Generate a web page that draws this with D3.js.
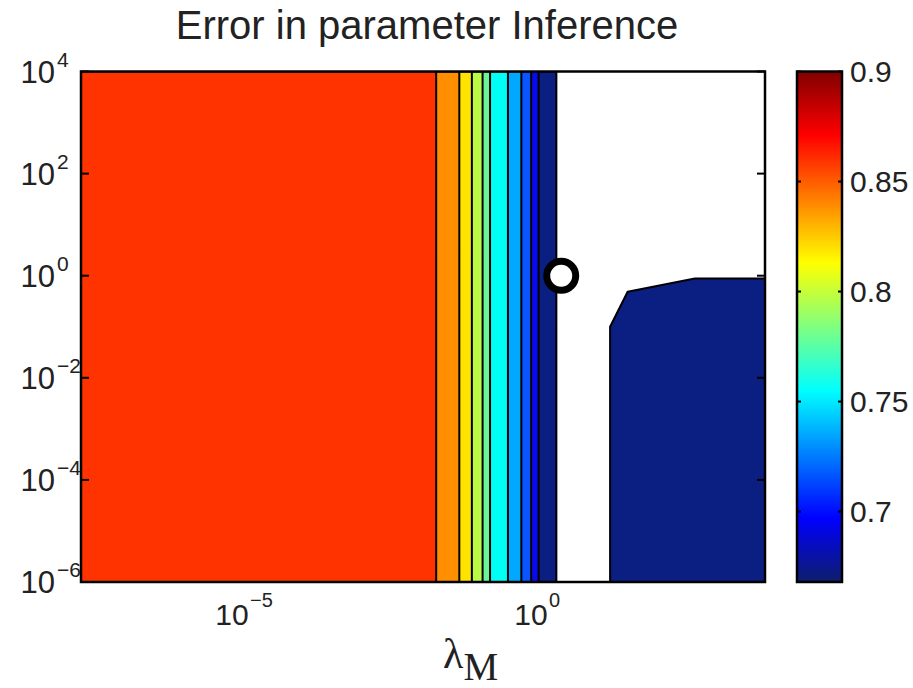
<!DOCTYPE html>
<html><head><meta charset="utf-8">
<script src="https://cdn.jsdelivr.net/npm/d3@7"></script>
<style>body{margin:0;background:#fff} svg{display:block}</style>
</head><body>
<svg id="chart" width="913" height="688"></svg>
<script>
// ---------- data ----------
// grid columns: log2(lambda_M)
const lambdaLog2 = [-25, -5.3, -4.0, -3.3, -2.7, -2.3, -1.3, -0.55, 0, 0.4, 1.25, 3, 5.37, 9.1, 13];
// grid rows: log10(y)
const yLog10 = [-6, -5, -4, -3, -2, -1, 0, 1, 2, 3, 4];
// error along lambda, common to every row (first 12 columns)
const errCommon = [0.862, 0.8605, 0.8405, 0.8205, 0.8005, 0.7805, 0.7605, 0.7405, 0.7205, 0.7005, 0.6805, 0.675];
// error on the last three columns, by row group
const errTailLow  = [0.6835, 0.690, 0.690];   // rows y <= 1e-1
const errTailMid  = [0.6784, 0.6794, 0.6794]; // row  y = 1e0
const errTailHigh = [0.674, 0.673, 0.672];    // rows y >= 1e1
// contour levels
const levels = [0.68, 0.70, 0.72, 0.74, 0.76, 0.78, 0.80, 0.82, 0.84, 0.86];
// colour bar
const cbarDomain = [0.668, 0.9];
const cbarTicks = [0.7, 0.75, 0.8, 0.85, 0.9];
// axis ticks (exponents)
const xTickExp = [-5, 0];
const yTickExp = [-6, -4, -2, 0, 2, 4];
// marked point
const markLambda = 3.2, markY = 1;

// ---------- styles ----------
const bandColors = ["#0B1F82", "#0A0AF0", "#0A55FF", "#00A8FF", "#00FFF5",
                    "#6CF397", "#BAFA46", "#FFE300", "#FF8E00", "#FF3300"];
const cbarStops = [[0, "#0E1E6A"], [0.125, "#0000FF"], [0.375, "#00FFFF"],
                   [0.625, "#FFFF00"], [0.875, "#FF0000"], [1, "#800000"]];
const SANS = "'Liberation Sans', Arial, Helvetica, sans-serif";
const SERIF = "'Liberation Serif', 'Times New Roman', serif";

const errGrid = yLog10.map(e => errCommon.concat(e <= -1 ? errTailLow : (e === 0 ? errTailMid : errTailHigh)));

const svg = d3.select("#chart");
const L = 81, R = 765, T = 71.5, B = 582;
const x = d3.scaleLog().domain([Math.pow(2, -25), Math.pow(2, 13)]).range([L, R]);
const y = d3.scaleLog().domain([1e-6, 1e4]).range([B, T]);

// clip
svg.append("defs").append("clipPath").attr("id", "plotclip")
  .append("rect").attr("x", L).attr("y", T).attr("width", R - L).attr("height", B - T);

// contours
const nx = lambdaLog2.length, ny = yLog10.length;
const values = [];
errGrid.forEach(row => row.forEach(v => values.push(v)));
const cont = d3.contours().size([nx, ny]).thresholds(levels)(values);
function interp(arr, p) {
  const u = Math.max(0, Math.min(arr.length - 1, p - 0.5));
  const i = Math.min(Math.floor(u), arr.length - 2);
  const f = u - i;
  return arr[i] + f * (arr[i + 1] - arr[i]);
}
const proj = d3.geoTransform({
  point(px, py) {
    this.stream.point(x(Math.pow(2, interp(lambdaLog2, px))), y(Math.pow(10, interp(yLog10, py))));
  }
});
const path = d3.geoPath(proj);
const gC = svg.append("g").attr("clip-path", "url(#plotclip)");
gC.selectAll("path").data(cont).join("path")
  .attr("d", path)
  .attr("fill", (d, i) => bandColors[i])
  .attr("fill-rule", "evenodd")
  .attr("stroke", "#000")
  .attr("stroke-width", 2)
  .attr("stroke-linejoin", "round");

// marked point
svg.append("circle").attr("cx", x(markLambda)).attr("cy", y(markY)).attr("r", 14.5)
  .attr("fill", "#fff").attr("stroke", "#000").attr("stroke-width", 7);

// y ticks (inside, both sides)
const gT = svg.append("g").attr("stroke", "#000").attr("stroke-width", 2);
yTickExp.forEach(e => {
  const yy = y(Math.pow(10, e));
  gT.append("line").attr("x1", L).attr("x2", L + 8).attr("y1", yy).attr("y2", yy);
  gT.append("line").attr("x1", R - 8).attr("x2", R).attr("y1", yy).attr("y2", yy);
});

// frame
svg.append("rect").attr("x", L).attr("y", T).attr("width", R - L).attr("height", B - T)
  .attr("fill", "none").attr("stroke", "#000").attr("stroke-width", 2.5);

function expLabel(e) { return e < 0 ? "\u2212" + Math.abs(e) : String(e); }

// y tick labels
yTickExp.forEach(e => {
  const yy = y(Math.pow(10, e));
  svg.append("text").attr("x", 55).attr("y", yy + 11).attr("text-anchor", "end")
    .attr("font-family", SANS).attr("font-size", 31).attr("fill", "#222").text("10");
  svg.append("text").attr("x", 57).attr("y", yy - 5).attr("text-anchor", "start")
    .attr("font-family", SANS).attr("font-size", 21).attr("fill", "#222").text(expLabel(e));
});

// x tick labels
xTickExp.forEach(e => {
  const xx = x(Math.pow(10, e));
  svg.append("text").attr("x", xx).attr("y", 625).attr("text-anchor", "middle")
    .attr("font-family", SANS).attr("font-size", 30).attr("fill", "#222").text("10");
  svg.append("text").attr("x", xx + 18).attr("y", 607).attr("text-anchor", "start")
    .attr("font-family", SANS).attr("font-size", 20).attr("fill", "#222").text(expLabel(e));
});

// x label
const xl = svg.append("text").attr("x", 443).attr("y", 668).attr("font-family", SERIF).attr("fill", "#222");
xl.append("tspan").attr("font-size", 42).text("\u03BB");
xl.append("tspan").attr("font-size", 39).attr("dy", 12).text("M");

// title
svg.append("text").attr("x", 427).attr("y", 39).attr("text-anchor", "middle")
  .attr("font-family", SANS).attr("font-size", 40).attr("fill", "#222").text("Error in parameter Inference");

// colour bar
const CL = 797, CR = 842;
const cy = d3.scaleLinear().domain(cbarDomain).range([B, T]);
const grad = svg.select("defs").append("linearGradient").attr("id", "cbgrad")
  .attr("x1", 0).attr("y1", 1).attr("x2", 0).attr("y2", 0);
cbarStops.forEach(s => grad.append("stop").attr("offset", s[0]).attr("stop-color", s[1]));
svg.append("rect").attr("x", CL).attr("y", T).attr("width", CR - CL).attr("height", B - T)
  .attr("fill", "url(#cbgrad)");
const gCT = svg.append("g").attr("stroke", "#000").attr("stroke-width", 2);
cbarTicks.forEach(v => {
  const yy = cy(v);
  gCT.append("line").attr("x1", CL).attr("x2", CL + 4).attr("y1", yy).attr("y2", yy);
  gCT.append("line").attr("x1", CR - 4).attr("x2", CR).attr("y1", yy).attr("y2", yy);
  svg.append("text").attr("x", 850).attr("y", yy + 10.5).attr("font-family", SANS)
    .attr("font-size", 30).attr("fill", "#222").text(String(v));
});
svg.append("rect").attr("x", CL).attr("y", T).attr("width", CR - CL).attr("height", B - T)
  .attr("fill", "none").attr("stroke", "#000").attr("stroke-width", 2.5);
</script>
</body></html>
